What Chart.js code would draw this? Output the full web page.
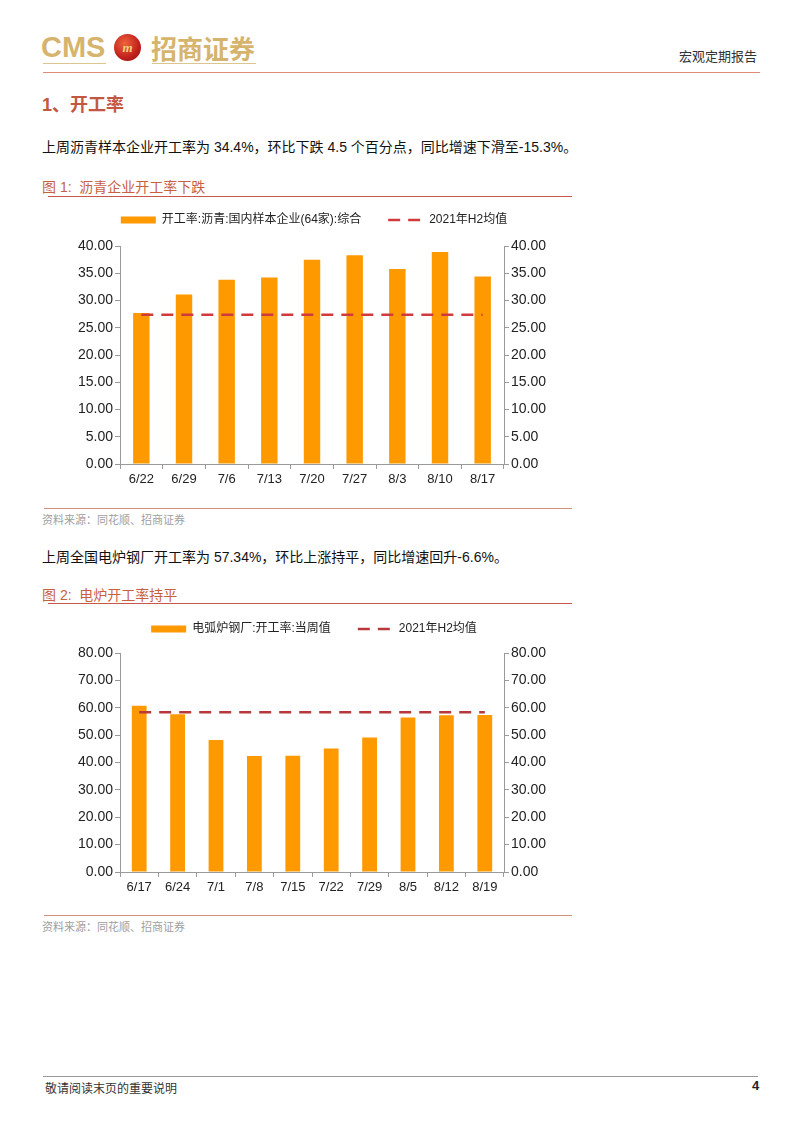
<!DOCTYPE html>
<html lang="zh">
<head>
  <meta charset="UTF-8">
  <title>宏观定期报告 - 开工率</title>
  <script src="https://cdn.jsdelivr.net/npm/chart.js"></script>
  <style>
    body {
      margin: 0;
      background: #fff;
      font-family: "Liberation Sans", Arial, "Noto Sans CJK SC", sans-serif;
      color: #222;
    }
    #page { position: relative; width: 802px; height: 1133px; overflow: hidden; }
    .abs { position: absolute; white-space: nowrap; }
    .hline { position: absolute; height: 0; }
    .cms { left: 41px; top: 31px; font-size: 29px; font-weight: bold; color: #d6b46e; }
    .zs { left: 151px; top: 29px; font-size: 26px; font-weight: bold; color: #d6b46e; font-family: "Noto Sans CJK SC", sans-serif; }
    .logo { left: 114px; top: 34px; width: 27px; height: 27px; border-radius: 50%;
      background: radial-gradient(circle at 40% 35%, #f0643c, #c0201c 60%, #8a1410);
      color: #f3d27a; font: italic bold 13px "Liberation Serif", serif; text-align: center; line-height: 27px; }
    .report { left: 679px; top: 46px; font-size: 13px; color: #333; font-family: "Noto Sans CJK SC", sans-serif; }
    .h1 { left: 42px; top: 90px; font-size: 18px; color: #c4573f; font-weight: bold; }
    .para { left: 42px; font-size: 14px; color: #111; }
    .fig { left: 42px; font-size: 14px; color: #c8613f; }
    .src { left: 42px; font-size: 11px; color: #a0a0a0; }
    .chartbox { position: absolute; }
    .foot { left: 45px; top: 1079px; font-size: 12px; color: #333; }
    .pno { left: 752px; top: 1078px; font-size: 13px; font-weight: bold; color: #222; }
  </style>
</head>
<body>
<div id="page">
  <div class="abs cms">CMS</div>
  <div class="abs logo">m</div>
  <div class="abs zs">招商证券</div>
  <div class="hline" style="left:43px;top:63px;width:63px;border-top:1.5px solid #dcc690;"></div>
  <div class="hline" style="left:152px;top:63px;width:104px;border-top:1.5px solid #dcc690;"></div>
  <div class="abs report">宏观定期报告</div>
  <div class="hline" style="left:43px;top:72px;width:717px;border-top:1px solid #e08a7c;"></div>

  <div class="abs h1">1、开工率</div>
  <div class="abs para" style="top:136px;">上周沥青样本企业开工率为 34.4%，环比下跌 4.5 个百分点，同比增速下滑至-15.3%。</div>
  <div class="abs fig" style="top:176px;">图 1:&nbsp; 沥青企业开工率下跌</div>
  <div class="hline" style="left:48px;top:196px;width:524px;border-top:1.5px solid #c8574a;"></div>
  <div class="chartbox" style="left:44px;top:187px;width:540px;height:307px;"><canvas id="c1"></canvas></div>
  <div class="hline" style="left:44px;top:508px;width:528px;border-top:1.5px solid #d49080;"></div>
  <div class="abs src" style="top:511px;">资料来源：同花顺、招商证券</div>

  <div class="abs para" style="top:546px;">上周全国电炉钢厂开工率为 57.34%，环比上涨持平，同比增速回升-6.6%。</div>
  <div class="abs fig" style="top:584px;">图 2:&nbsp; 电炉开工率持平</div>
  <div class="hline" style="left:48px;top:603px;width:524px;border-top:1.5px solid #c8574a;"></div>
  <div class="chartbox" style="left:44px;top:596px;width:540px;height:306px;"><canvas id="c2"></canvas></div>
  <div class="hline" style="left:44px;top:915px;width:528px;border-top:1.5px solid #d49080;"></div>
  <div class="abs src" style="top:918px;">资料来源：同花顺、招商证券</div>

  <div class="hline" style="left:43px;top:1076px;width:715px;border-top:1px solid #999;"></div>
  <div class="abs foot">敬请阅读末页的重要说明</div>
  <div class="abs pno">4</div>
</div>
<script>
  // 图1 沥青
  const labels1 = ['6/22', '6/29', '7/6', '7/13', '7/20', '7/27', '8/3', '8/10', '8/17'];
  const asphalt = [27.7, 31.1, 33.8, 34.2, 37.5, 38.3, 35.8, 38.9, 34.4];
  const asphaltAvg = [27.4, 27.4, 27.4, 27.4, 27.4, 27.4, 27.4, 27.4, 27.4];
  const ticks1 = { min: 0, max: 40, step: 5 };

  // 图2 电炉
  const labels2 = ['6/17', '6/24', '7/1', '7/8', '7/15', '7/22', '7/29', '8/5', '8/12', '8/19'];
  const eaf = [60.7, 57.6, 48.2, 42.4, 42.5, 45.1, 49.1, 56.4, 57.3, 57.34];
  const eafAvg = [58.4, 58.4, 58.4, 58.4, 58.4, 58.4, 58.4, 58.4, 58.4, 58.4];
  const ticks2 = { min: 0, max: 80, step: 10 };

  const FONT = '"Liberation Sans", Arial, "Noto Sans CJK SC", sans-serif';
  const ORANGE = '#ff9900';
  const DASH = [12, 8];

  function axisY(t, pos, w) {
    return {
      position: pos,
      min: t.min, max: t.max,
      ticks: { stepSize: t.step, color: '#222', font: { family: FONT, size: 14 }, padding: 2,
        callback: v => v.toFixed(2) },
      grid: { drawOnChartArea: false, tickLength: 5, color: '#9a9a9a' },
      border: { color: '#9a9a9a' },
      afterFit: s => { s.width = w; }
    };
  }

  // usePointStyle drops borderDash from line items, put it back
  function legendLabels(chart) {
    const items = Chart.defaults.plugins.legend.labels.generateLabels(chart);
    items.forEach(it => {
      const ds = chart.data.datasets[it.datasetIndex];
      if (ds.type === 'line') {
        it.lineDash = ds.borderDash;
        it.lineWidth = ds.borderWidth;
        it.strokeStyle = ds.borderColor;
      }
    });
    return items;
  }

  function makeChart(id, labels, bars, avg, barName, t, lineColor, legendH) {
    Chart.defaults.font.family = FONT;
    return new Chart(document.getElementById(id), {
      type: 'bar',
      data: {
        labels: labels,
        datasets: [
          { label: barName, data: bars, backgroundColor: ORANGE, borderWidth: 0,
            categoryPercentage: 1, barPercentage: 0.385, order: 2, pointStyle: 'rect' },
          { type: 'line', label: '2021年H2均值', data: avg, borderColor: lineColor,
            backgroundColor: lineColor, borderWidth: 2.5, borderDash: DASH,
            pointRadius: 0, fill: false, order: 1, pointStyle: 'line' }
        ]
      },
      options: {
        responsive: true,
        maintainAspectRatio: false,
        animation: false,
        layout: { padding: 0 },
        plugins: {
          legend: {
            position: 'top',
            labels: { usePointStyle: true, pointStyleWidth: 35, boxHeight: 7,
              padding: 27, color: '#222', font: { family: FONT, size: 12 },
              generateLabels: legendLabels,
              sort: (a, b) => a.datasetIndex - b.datasetIndex }
          },
          tooltip: { enabled: false }
        },
        scales: {
          x: {
            grid: { drawOnChartArea: false, tickLength: 5, color: '#9a9a9a', offset: true },
            border: { color: '#9a9a9a' },
            ticks: { color: '#222', font: { family: FONT, size: 13 }, padding: 3, maxRotation: 0 },
            afterFit: s => { s.height = 30; }
          },
          y: axisY(t, 'left', 76),
          y2: axisY(t, 'right', 80)
        }
      },
      plugins: [{
        id: 'legendH',
        beforeInit(chart) {
          const fit = chart.legend.fit;
          chart.legend.fit = function () { fit.call(this); this.height = legendH; };
        }
      }]
    });
  }

  makeChart('c1', labels1, asphalt, asphaltAvg, '开工率:沥青:国内样本企业(64家):综合', ticks1, '#d13a3c', 59);
  makeChart('c2', labels2, eaf, eafAvg, '电弧炉钢厂:开工率:当周值', ticks2, '#b8383c', 57);
</script>
</body>
</html>
